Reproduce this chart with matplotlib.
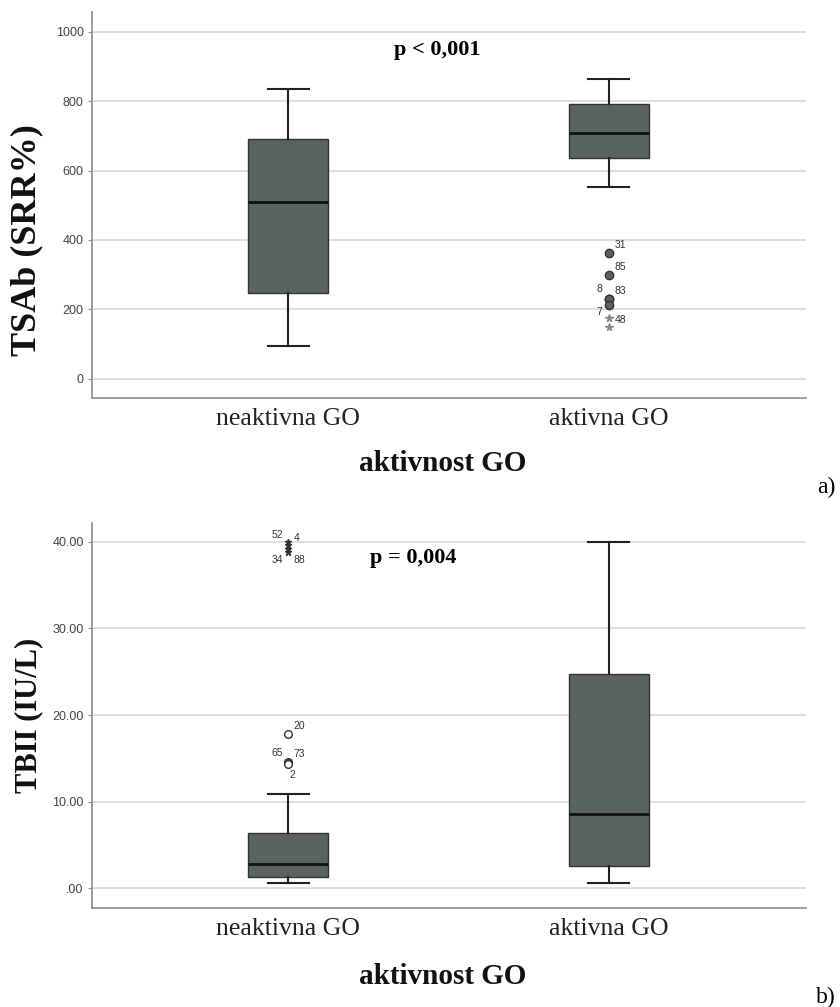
import numpy as np
import matplotlib.pyplot as plt

# categories
groups = ["neaktivna GO", "aktivna GO"]

# panel a) TSAb (SRR%)
tsab_whislo = [93, 553]
tsab_q1 = [247, 636]
tsab_med = [510, 707]
tsab_q3 = [691, 791]
tsab_whishi = [835, 864]
# outliers of "aktivna GO": (value, case label, label offset)
tsab_circ_vals = [361, 298, 229, 229, 212]
tsab_circ_ids = ["31", "85", "8", "83", "7"]
tsab_circ_off = [(4, 4), (4, 4), (-9, 5), (4, 4), (-9, -7)]
tsab_star_vals = [176, 150]
tsab_star_ids = ["48", ""]
tsab_ticks = [0, 200, 400, 600, 800, 1000]
tsab_ticklabels = ["0", "200", "400", "600", "800", "1000"]

# panel b) TBII (IU/L)
tbii_whislo = [0.58, 0.65]
tbii_q1 = [1.35, 2.57]
tbii_med = [2.8, 8.57]
tbii_q3 = [6.4, 24.77]
tbii_whishi = [10.9, 40.0]
# outliers of "neaktivna GO"
tbii_circ_vals = [17.8, 14.6, 14.5, 14.3]
tbii_circ_ids = ["20", "65", "73", "2"]
tbii_circ_off = [(4, 4), (-12, 4), (4, 4), (1, -10)]
tbii_star_vals = [40.0, 39.6, 39.2, 38.8]
tbii_star_ids = ["52", "4", "34", "88"]
tbii_star_off = [(-12, 3), (4, 3), (-12, -10), (4, -8)]
tbii_ticks = [0, 10, 20, 30, 40]
tbii_ticklabels = [".00", "10.00", "20.00", "30.00", "40.00"]

BOX = "#5a635d"
GRID = "#d4d4d4"
SPINE = "#8c8c8c"
SERIF = "Liberation Serif"
SANS = "Liberation Sans"


def make_stats(lo, q1, med, q3, hi):
    return [dict(whislo=lo[i], q1=q1[i], med=med[i], q3=q3[i], whishi=hi[i], fliers=[])
            for i in range(len(lo))]


def style_axes(ax, ylim, ticks, ticklabels, ylabel, ylab_size, label_y, xlab_y):
    ax.set_xlim(0.389, 2.614)
    ax.set_ylim(*ylim)
    ax.set_yticks(ticks)
    ax.set_yticklabels(ticklabels, fontfamily=SANS, fontsize=9, color="#444444")
    ax.set_xticks([1, 2])
    ax.set_xticklabels(groups, fontfamily=SERIF, fontsize=18.5, color="#222222")
    ax.tick_params(axis="x", length=0, pad=7)
    ax.tick_params(axis="y", length=3, color=SPINE, pad=3)
    for t in ticks:
        ax.axhline(t, color=GRID, lw=1.1, zorder=0)
    for s in ["top", "right"]:
        ax.spines[s].set_visible(False)
    for s in ["left", "bottom"]:
        ax.spines[s].set_color(SPINE)
        ax.spines[s].set_linewidth(1.2)
    ax.set_xlabel("aktivnost GO", fontfamily=SERIF, fontweight="bold", fontsize=21,
                  color="#111111")
    ax.xaxis.set_label_coords(0.4916, xlab_y)
    ax.set_ylabel(ylabel, fontfamily=SERIF, fontweight="bold", fontsize=ylab_size,
                  color="#111111")
    ax.yaxis.set_label_coords(-0.068, label_y)


def draw_box(ax, stats):
    ax.bxp(stats, positions=[1, 2], widths=0.252, capwidths=0.128, patch_artist=True,
           showfliers=False,
           boxprops=dict(facecolor=BOX, edgecolor="#333333", linewidth=1.0),
           medianprops=dict(color="#111111", linewidth=2.0),
           whiskerprops=dict(color="#222222", linewidth=1.5),
           capprops=dict(color="#222222", linewidth=1.5),
           zorder=3)


def label(ax, x, y, txt, off):
    if txt:
        ax.annotate(txt, (x, y), xytext=off, textcoords="offset points",
                    fontsize=7.5, fontfamily=SANS, color="#333333")


fig = plt.figure(figsize=(8.4, 10.07), dpi=100)

# ---- panel a)
ax1 = fig.add_axes([0.1095, 0.6048, 0.85, 0.3832])
draw_box(ax1, make_stats(tsab_whislo, tsab_q1, tsab_med, tsab_q3, tsab_whishi))
ax1.plot([2] * len(tsab_circ_vals), tsab_circ_vals, "o", ms=6, mfc=BOX, mec="#333333",
         mew=1.0, zorder=4)
ax1.plot([2] * len(tsab_star_vals), tsab_star_vals, "*", ms=5.5, color="#888888", zorder=4)
for v, t, o in zip(tsab_circ_vals, tsab_circ_ids, tsab_circ_off):
    label(ax1, 2, v, t, o)
for v, t in zip(tsab_star_vals, tsab_star_ids):
    label(ax1, 2, v, t, (4.5, -4))
style_axes(ax1, (-56, 1057), tsab_ticks, tsab_ticklabels, "TSAb (SRR%)", 26, 0.41, -0.135)
ax1.text(0.484, 0.902, "p < 0,001", transform=ax1.transAxes, ha="center", va="center",
         fontfamily=SERIF, fontweight="bold", fontsize=16)
fig.text(826 / 840, 1 - 487 / 1007, "a)", ha="center", va="center",
         fontfamily=SERIF, fontsize=17)

# ---- panel b)
ax2 = fig.add_axes([0.1095, 0.0983, 0.85, 0.3823])
draw_box(ax2, make_stats(tbii_whislo, tbii_q1, tbii_med, tbii_q3, tbii_whishi))
ax2.plot([1] * len(tbii_circ_vals), tbii_circ_vals, "o", ms=5.5, mfc="white", mec="#333333",
         mew=1.0, zorder=4)
ax2.plot([1] * len(tbii_star_vals), tbii_star_vals, "*", ms=5, color="#333333", zorder=4)
for v, t, o in zip(tbii_circ_vals, tbii_circ_ids, tbii_circ_off):
    label(ax2, 1, v, t, o)
for v, t, o in zip(tbii_star_vals, tbii_star_ids, tbii_star_off):
    label(ax2, 1, v, t, o)
style_axes(ax2, (-2.27, 42.16), tbii_ticks, tbii_ticklabels, "TBII (IU/L)", 22, 0.5, -0.143)
ax2.text(0.45, 0.91, "p = 0,004", transform=ax2.transAxes, ha="center", va="center",
         fontfamily=SERIF, fontweight="bold", fontsize=16)
fig.text(826 / 840, 1 - 997 / 1007, "b)", ha="center", va="center",
         fontfamily=SERIF, fontsize=17)

fig.savefig("out.png", dpi=100, facecolor="white")
